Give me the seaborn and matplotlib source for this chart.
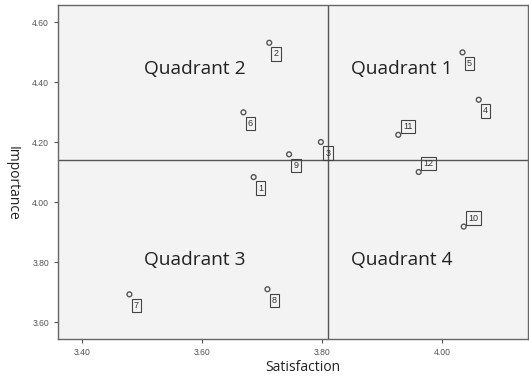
import matplotlib
matplotlib.use("Agg")
import matplotlib.pyplot as plt
import seaborn as sns
import pandas as pd

# Dados
ids = ["1", "2", "3", "4", "5", "6", "7", "8", "9", "10", "11", "12"]
satisfaction = [3.686, 3.712, 3.798, 4.061, 4.034, 3.669, 3.479, 3.709, 3.745, 4.036, 3.927, 3.961]
importance = [4.084, 4.532, 4.201, 4.342, 4.500, 4.300, 3.693, 3.710, 4.160, 3.919, 4.225, 4.101]
label_up = ["10", "11", "12"]  # rótulos acima do ponto

mean_x = 3.81
mean_y = 4.141

quadrants = ["Quadrant 1", "Quadrant 2", "Quadrant 3", "Quadrant 4"]
quad_x = [3.933, 3.588, 3.588, 3.933]
quad_y = [4.444, 4.444, 3.808, 3.808]

df = pd.DataFrame({"id": ids, "Satisfaction": satisfaction, "Importance": importance})

sns.set_style("ticks")
plt.rcParams["font.family"] = ["Liberation Sans", "DejaVu Sans"]

fig = plt.figure(figsize=(5.29, 3.79), dpi=100)
ax = fig.add_axes([0.1096, 0.1055, 0.8884, 0.8813])
ax.set_facecolor("#f3f3f3")

sns.scatterplot(data=df, x="Satisfaction", y="Importance", ax=ax,
                marker="o", s=12, facecolors="none", edgecolor="#555555",
                linewidth=1.0, zorder=3)

ax.axvline(mean_x, color="#555555", lw=1.0, zorder=2)
ax.axhline(mean_y, color="#555555", lw=1.0, zorder=2)

for i, x, y in zip(ids, satisfaction, importance):
    dy = 6 if i in label_up else -8
    dx = 7 if i in label_up else 5
    ax.annotate(i, (x, y), xytext=(dx, dy), textcoords="offset points",
                fontsize=6.5, color="#333333", ha="center", va="center",
                family="Liberation Sans",
                bbox=dict(boxstyle="square,pad=0.25", fc="none", ec="#444444", lw=0.8))

for q, x, y in zip(quadrants, quad_x, quad_y):
    ax.text(x, y, q, fontsize=13.8, color="#222222", ha="center", va="center",
            family="Open Sans")

ax.set_xlim(3.36, 4.143)
ax.set_ylim(3.544, 4.658)
ax.set_xticks([3.4, 3.6, 3.8, 4.0])
ax.set_yticks([3.6, 3.8, 4.0, 4.2, 4.4, 4.6])
ax.xaxis.set_major_formatter(matplotlib.ticker.FormatStrFormatter("%.2f"))
ax.yaxis.set_major_formatter(matplotlib.ticker.FormatStrFormatter("%.2f"))
ax.tick_params(labelsize=6.2, colors="#555555", length=3, width=0.8)

for s in ax.spines.values():
    s.set_color("#666666")
    s.set_linewidth(1.0)

ax.set_xlabel("Satisfaction", fontsize=10, color="#222222", family="Open Sans")
ax.set_ylabel("Importance", fontsize=10, color="#222222", family="Open Sans",
              rotation=270, va="center")
ax.xaxis.set_label_coords(0.52, -0.062)
ax.yaxis.set_label_coords(-0.098, 0.467)

fig.savefig("out.png", dpi=100)
